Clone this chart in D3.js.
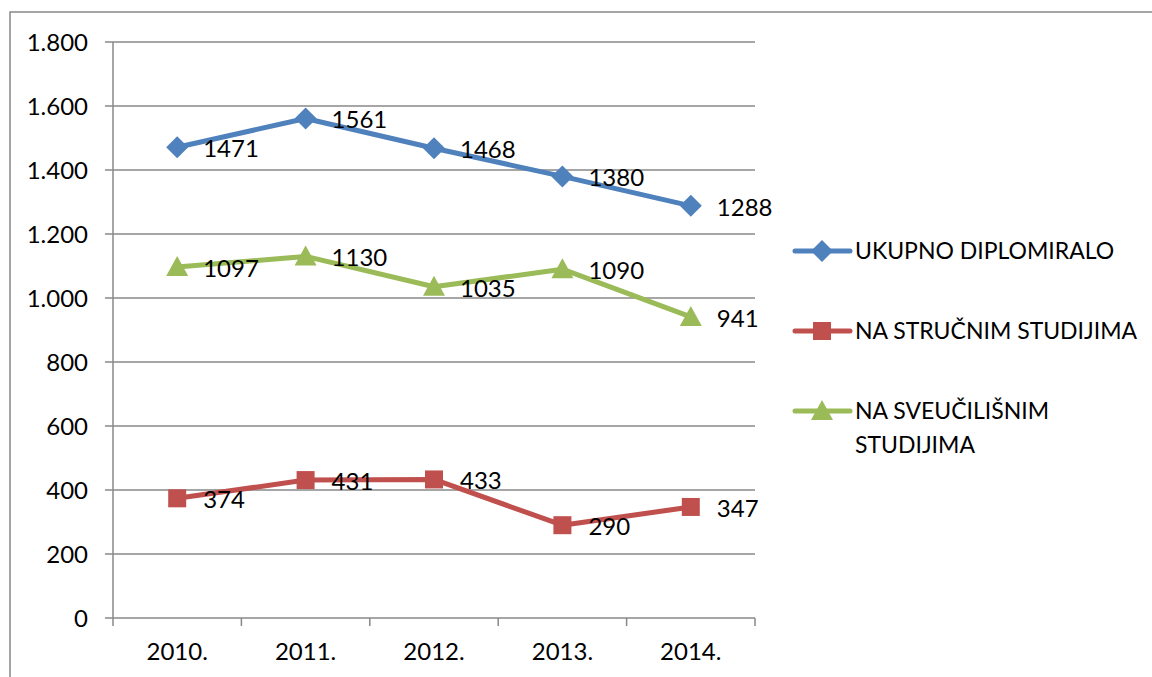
<!DOCTYPE html>
<html><head><meta charset="utf-8">
<script src="https://cdnjs.cloudflare.com/ajax/libs/d3/7.8.5/d3.min.js"></script>
<style>body{margin:0;background:#fff;}svg{display:block;font-family:Lato,"Open Sans",sans-serif;}</style>
</head><body>
<script>
const categories = ["2010.","2011.","2012.","2013.","2014."];
const ukupno = [1471,1561,1468,1380,1288];
const strucni = [374,431,433,290,347];
const sveucilisni = [1097,1130,1035,1090,941];
const yTicks = [0,200,400,600,800,1000,1200,1400,1600,1800];
const seriesNames = ["UKUPNO DIPLOMIRALO","NA STRUČNIM STUDIJIMA","NA SVEUČILIŠNIM STUDIJIMA"];

const W=1152,H=677;
const svg=d3.select("body").append("svg").attr("width",W).attr("height",H);
svg.append("rect").attr("x",10).attr("y",12).attr("width",W).attr("height",H).attr("fill","#fff").attr("stroke","#888").attr("stroke-width",1.5);

const x=d3.scaleBand().domain(categories).range([113,755]);
const y=d3.scaleLinear().domain([0,1800]).range([618,42]);
const fmt=v=>d3.format(",")(v).replace(/,/g,".");
const fs=24;

// gridlines
svg.append("g").selectAll("line").data(yTicks).join("line")
  .attr("x1",105).attr("x2",755).attr("y1",d=>y(d)).attr("y2",d=>y(d))
  .attr("stroke","#888").attr("stroke-width",1.5);
// y axis line
svg.append("line").attr("x1",113).attr("x2",113).attr("y1",42).attr("y2",618).attr("stroke","#888").attr("stroke-width",1.5);
// x ticks
const bounds=categories.map(c=>x(c)).concat([x.range()[1]]);
svg.append("g").selectAll("line").data(bounds).join("line")
  .attr("x1",d=>d).attr("x2",d=>d).attr("y1",618).attr("y2",626).attr("stroke","#888").attr("stroke-width",1.5);
// y labels
svg.append("g").selectAll("text").data(yTicks).join("text")
  .attr("x",88).attr("y",d=>y(d)).attr("dy","0.36em").attr("text-anchor","end")
  .attr("font-size",fs).attr("fill","#000").text(d=>fmt(d));
// x labels
svg.append("g").selectAll("text").data(categories).join("text")
  .attr("x",d=>x(d)+x.bandwidth()/2).attr("y",660).attr("text-anchor","middle")
  .attr("font-size",fs).attr("fill","#000").text(d=>d);

const cx=d=>x(d)+x.bandwidth()/2;
const series=[
 {name:seriesNames[0],vals:ukupno,color:"#4F81BD",marker:"diamond"},
 {name:seriesNames[1],vals:strucni,color:"#C0504D",marker:"square"},
 {name:seriesNames[2],vals:sveucilisni,color:"#9BBB59",marker:"triangle"}
];
function markerPath(type){
  if(type==="diamond") return "M0,-11L11,0L0,11L-11,0Z";
  if(type==="square") return "M-9,-9H9V9H-9Z";
  return "M0,-11L11,9H-11Z";
}
const line=d3.line().x((d,i)=>cx(categories[i])).y(d=>y(d));
series.forEach(s=>{
  svg.append("path").attr("d",line(s.vals)).attr("fill","none").attr("stroke",s.color).attr("stroke-width",5).attr("stroke-linejoin","round");
  svg.append("g").selectAll("path").data(s.vals).join("path")
    .attr("transform",(d,i)=>`translate(${cx(categories[i])},${y(d)})`)
    .attr("d",markerPath(s.marker)).attr("fill",s.color);
  svg.append("g").selectAll("text").data(s.vals).join("text")
    .attr("x",(d,i)=>cx(categories[i])+26).attr("y",d=>y(d)+10)
    .attr("font-size",fs).attr("fill","#000").text(d=>d);
});

// legend
const legY=[251,331,411];
series.forEach((s,i)=>{
  const g=svg.append("g").attr("transform",`translate(0,${legY[i]})`);
  g.append("line").attr("x1",795).attr("x2",850).attr("y1",0).attr("y2",0).attr("stroke",s.color).attr("stroke-width",5).attr("stroke-linecap","round");
  g.append("path").attr("transform","translate(822,0)").attr("d",markerPath(s.marker)).attr("fill",s.color);
  const t=g.append("text").attr("x",855).attr("y",0).attr("dy","0.36em").attr("font-size",fs-1).attr("fill","#000");
  if(i===2){
    t.append("tspan").attr("x",855).text("NA SVEUČILIŠNIM");
    t.append("tspan").attr("x",855).attr("dy","1.45em").text("STUDIJIMA");
  } else t.text(s.name);
});
</script>
</body></html>
